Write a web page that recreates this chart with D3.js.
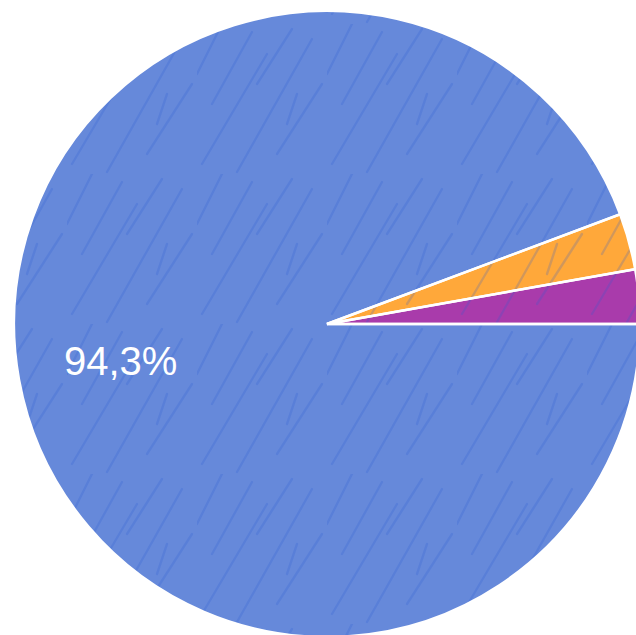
<!DOCTYPE html>
<html>
<head>
<meta charset="utf-8">
<script src="https://cdn.jsdelivr.net/npm/d3@7"></script>
<style>
  body { margin: 0; background: #fff; overflow: hidden; }
</style>
</head>
<body>
<div id="chart"></div>
<script>
// data
let labels = ["A", "B", "C"]
let values = [94.3, 2.9, 2.8]
let colors = ["#6689da", "#ffa83a", "#a93bab"]
let shownLabels = ["94,3%", "", ""]

let width = 636, height = 635
let cx = 327, cy = 324, radius = 313

let svg = d3.select("#chart")
  .append("svg")
    .attr("width", width)
    .attr("height", height)

// scribbled texture on top of the slices
let defs = svg.append("defs")
let pat = defs.append("pattern")
  .attr("id", "scribble")
  .attr("patternUnits", "userSpaceOnUse")
  .attr("width", 130)
  .attr("height", 150)
let strokes = [
  [5, 140, 70, 30], [40, 148, 115, 15], [80, 130, 125, 60],
  [15, 80, 55, 8], [90, 100, 100, 70], [0, 50, 25, 0], [60, 60, 95, 5]
]
pat.selectAll("line")
  .data(strokes)
  .enter()
  .append("line")
    .attr("x1", d => d[0]).attr("y1", d => d[1])
    .attr("x2", d => d[2]).attr("y2", d => d[3])
    .style("stroke", "#2a5bd0")
    .style("stroke-width", 2.4)
    .style("stroke-opacity", 0.22)
    .style("stroke-linecap", "round")

let g = svg.append("g")
  .attr("transform", "translate(" + cx + "," + cy + ")")

let pie = d3.pie()
  .sort(null)
  .startAngle(Math.PI / 2)
  .endAngle(Math.PI / 2 + 2 * Math.PI)
  .value(d => d)

let arc = d3.arc().innerRadius(0).outerRadius(radius)

let arcs = pie(values)

g.selectAll("path.slice")
  .data(arcs)
  .enter()
  .append("path")
    .attr("class", "slice")
    .attr("d", arc)
    .style("fill", (d, i) => colors[i])

g.selectAll("path.tex")
  .data(arcs)
  .enter()
  .append("path")
    .attr("class", "tex")
    .attr("d", arc)
    .style("fill", "url(#scribble)")
    .style("stroke", "none")

// slice borders above the texture
g.selectAll("path.edge")
  .data(arcs)
  .enter()
  .append("path")
    .attr("class", "edge")
    .attr("d", arc)
    .style("fill", "none")
    .style("stroke", "#fff")
    .style("stroke-width", 2.5)

let labelArc = d3.arc().innerRadius(radius * 0.67).outerRadius(radius * 0.67)

g.selectAll("text")
  .data(arcs)
  .enter()
  .append("text")
    .attr("x", d => labelArc.centroid(d)[0])
    .attr("y", d => labelArc.centroid(d)[1])
    .attr("dy", "0.35em")
    .style("text-anchor", "middle")
    .style("font-family", "Arial, 'Liberation Sans', sans-serif")
    .style("font-size", "40px")
    .style("fill", "#fff")
    .text((d, i) => shownLabels[i])
</script>
</body>
</html>
